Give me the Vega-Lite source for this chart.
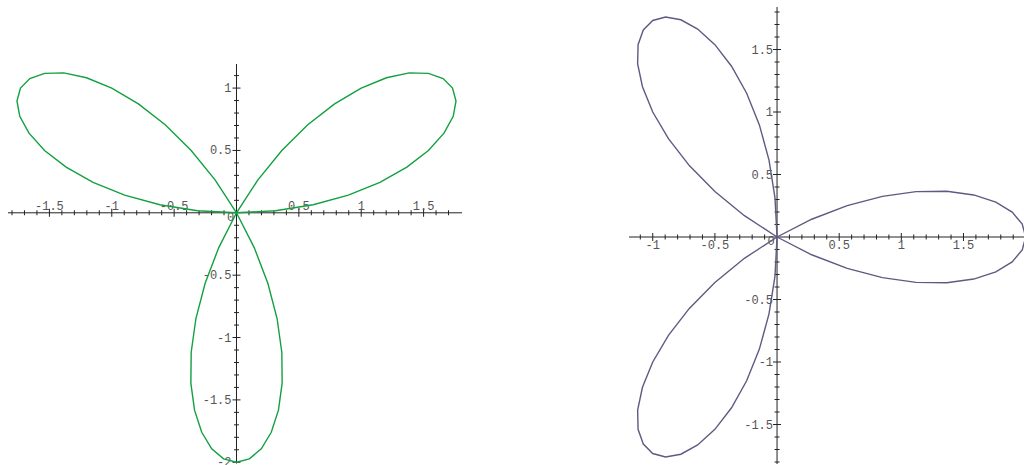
{
  "$schema": "https://vega.github.io/schema/vega-lite/v6.json",
  "padding": {"left": 7, "top": 6, "right": 0, "bottom": 0},
  "spacing": 167,
  "bounds": "flush",
  "background": "white",
  "config": {
    "view": {"stroke": null},
    "text": {"font": "Liberation Mono", "fontSize": 12, "color": "#555555"}
  },
  "datasets": {
    "roseL": [
      {"i":0,"x":0,"y":0},{"i":1,"x":0.31243,"y":0.01638},{"i":2,"x":0.61464,"y":0.0646},{"i":3,"x":0.8968,"y":0.14204},{"i":4,"x":1.14988,"y":0.24441},{"i":5,"x":1.36603,"y":0.36603},{"i":6,"x":1.53884,"y":0.5},{"i":7,"x":1.66365,"y":0.63862},{"i":8,"x":1.73767,"y":0.77367},{"i":9,"x":1.76008,"y":0.8968},{"i":10,"x":1.73205,"y":1},{"i":11,"x":1.65669,"y":1.07587},{"i":12,"x":1.53884,"y":1.11804},{"i":13,"x":1.38489,"y":1.12146},{"i":14,"x":1.20243,"y":1.08268},{"i":15,"x":1,"y":1},{"i":16,"x":0.78661,"y":0.87361},{"i":17,"x":0.57141,"y":0.70564},{"i":18,"x":0.36327,"y":0.5},{"i":19,"x":0.1704,"y":0.26239},{"i":20,"x":0,"y":0},
      {"i":21,"x":-0.14203,"y":-0.27876},{"i":22,"x":-0.25138,"y":-0.5646},{"i":23,"x":-0.32539,"y":-0.84767},{"i":24,"x":-0.36327,"y":-1.11804},{"i":25,"x":-0.36603,"y":-1.36603},{"i":26,"x":-0.3364,"y":-1.58268},{"i":27,"x":-0.27876,"y":-1.76007},{"i":28,"x":-0.19883,"y":-1.89169},{"i":29,"x":-0.10339,"y":-1.97267},{"i":30,"x":0,"y":-2},{"i":31,"x":0.10339,"y":-1.97267},{"i":32,"x":0.19883,"y":-1.89169},{"i":33,"x":0.27876,"y":-1.76007},{"i":34,"x":0.3364,"y":-1.58268},{"i":35,"x":0.36603,"y":-1.36603},{"i":36,"x":0.36327,"y":-1.11804},{"i":37,"x":0.32539,"y":-0.84767},{"i":38,"x":0.25138,"y":-0.5646},{"i":39,"x":0.14203,"y":-0.27876},{"i":40,"x":0,"y":0},
      {"i":41,"x":-0.1704,"y":0.26239},{"i":42,"x":-0.36327,"y":0.5},{"i":43,"x":-0.57141,"y":0.70564},{"i":44,"x":-0.78661,"y":0.87361},{"i":45,"x":-1,"y":1},{"i":46,"x":-1.20243,"y":1.08268},{"i":47,"x":-1.38489,"y":1.12146},{"i":48,"x":-1.53884,"y":1.11804},{"i":49,"x":-1.65669,"y":1.07587},{"i":50,"x":-1.73205,"y":1},{"i":51,"x":-1.76008,"y":0.8968},{"i":52,"x":-1.73767,"y":0.77367},{"i":53,"x":-1.66365,"y":0.63862},{"i":54,"x":-1.53884,"y":0.5},{"i":55,"x":-1.36603,"y":0.36603},{"i":56,"x":-1.14988,"y":0.24441},{"i":57,"x":-0.8968,"y":0.14204},{"i":58,"x":-0.61464,"y":0.0646},{"i":59,"x":-0.31243,"y":0.01638},{"i":60,"x":0,"y":0}
    ],
    "roseR": [
      {"i":0,"x":0,"y":0},{"i":1,"x":0.27876,"y":-0.14203},{"i":2,"x":0.5646,"y":-0.25138},{"i":3,"x":0.84767,"y":-0.32539},{"i":4,"x":1.11804,"y":-0.36327},{"i":5,"x":1.36603,"y":-0.36603},{"i":6,"x":1.58268,"y":-0.3364},{"i":7,"x":1.76007,"y":-0.27876},{"i":8,"x":1.89169,"y":-0.19883},{"i":9,"x":1.97267,"y":-0.10339},{"i":10,"x":2,"y":0},{"i":11,"x":1.97267,"y":0.10339},{"i":12,"x":1.89169,"y":0.19883},{"i":13,"x":1.76007,"y":0.27876},{"i":14,"x":1.58268,"y":0.3364},{"i":15,"x":1.36603,"y":0.36603},{"i":16,"x":1.11804,"y":0.36327},{"i":17,"x":0.84767,"y":0.32539},{"i":18,"x":0.5646,"y":0.25138},{"i":19,"x":0.27876,"y":0.14203},{"i":20,"x":0,"y":0},
      {"i":21,"x":-0.26239,"y":-0.1704},{"i":22,"x":-0.5,"y":-0.36327},{"i":23,"x":-0.70564,"y":-0.57141},{"i":24,"x":-0.87361,"y":-0.78661},{"i":25,"x":-1,"y":-1},{"i":26,"x":-1.08268,"y":-1.20243},{"i":27,"x":-1.12146,"y":-1.38489},{"i":28,"x":-1.11804,"y":-1.53884},{"i":29,"x":-1.07587,"y":-1.65669},{"i":30,"x":-1,"y":-1.73205},{"i":31,"x":-0.8968,"y":-1.76008},{"i":32,"x":-0.77367,"y":-1.73767},{"i":33,"x":-0.63862,"y":-1.66365},{"i":34,"x":-0.5,"y":-1.53884},{"i":35,"x":-0.36603,"y":-1.36603},{"i":36,"x":-0.24441,"y":-1.14988},{"i":37,"x":-0.14204,"y":-0.8968},{"i":38,"x":-0.0646,"y":-0.61464},{"i":39,"x":-0.01638,"y":-0.31243},{"i":40,"x":0,"y":0},
      {"i":41,"x":-0.01638,"y":0.31243},{"i":42,"x":-0.0646,"y":0.61464},{"i":43,"x":-0.14204,"y":0.8968},{"i":44,"x":-0.24441,"y":1.14988},{"i":45,"x":-0.36603,"y":1.36603},{"i":46,"x":-0.5,"y":1.53884},{"i":47,"x":-0.63862,"y":1.66365},{"i":48,"x":-0.77367,"y":1.73767},{"i":49,"x":-0.8968,"y":1.76008},{"i":50,"x":-1,"y":1.73205},{"i":51,"x":-1.07587,"y":1.65669},{"i":52,"x":-1.11804,"y":1.53884},{"i":53,"x":-1.12146,"y":1.38489},{"i":54,"x":-1.08268,"y":1.20243},{"i":55,"x":-1,"y":1},{"i":56,"x":-0.87361,"y":0.78661},{"i":57,"x":-0.70564,"y":0.57141},{"i":58,"x":-0.5,"y":0.36327},{"i":59,"x":-0.26239,"y":0.1704},{"i":60,"x":0,"y":0}
    ],
    "axesL": [{"x":-1.832,"y":0,"x2":1.808,"y2":0},{"x":0,"y":-2.01,"x2":0,"y2":1.193}],
    "axesR": [{"x":-1.191,"y":0,"x2":1.995,"y2":0},{"x":0,"y":-1.816,"x2":0,"y2":1.84}],
    "xticksL": [
      {"x":-1.8,"y":0,"k":"minor"},{"x":-1.7,"y":0,"k":"minor"},{"x":-1.6,"y":0,"k":"minor"},{"x":-1.5,"y":0,"k":"major"},{"x":-1.4,"y":0,"k":"minor"},{"x":-1.3,"y":0,"k":"minor"},{"x":-1.2,"y":0,"k":"minor"},{"x":-1.1,"y":0,"k":"minor"},{"x":-1,"y":0,"k":"major"},{"x":-0.9,"y":0,"k":"minor"},{"x":-0.8,"y":0,"k":"minor"},{"x":-0.7,"y":0,"k":"minor"},{"x":-0.6,"y":0,"k":"minor"},{"x":-0.5,"y":0,"k":"major"},{"x":-0.4,"y":0,"k":"minor"},{"x":-0.3,"y":0,"k":"minor"},{"x":-0.2,"y":0,"k":"minor"},{"x":-0.1,"y":0,"k":"minor"},
      {"x":0.1,"y":0,"k":"minor"},{"x":0.2,"y":0,"k":"minor"},{"x":0.3,"y":0,"k":"minor"},{"x":0.4,"y":0,"k":"minor"},{"x":0.5,"y":0,"k":"major"},{"x":0.6,"y":0,"k":"minor"},{"x":0.7,"y":0,"k":"minor"},{"x":0.8,"y":0,"k":"minor"},{"x":0.9,"y":0,"k":"minor"},{"x":1,"y":0,"k":"major"},{"x":1.1,"y":0,"k":"minor"},{"x":1.2,"y":0,"k":"minor"},{"x":1.3,"y":0,"k":"minor"},{"x":1.4,"y":0,"k":"minor"},{"x":1.5,"y":0,"k":"major"},{"x":1.6,"y":0,"k":"minor"},{"x":1.7,"y":0,"k":"minor"}
    ],
    "yticksL": [
      {"x":0,"y":-2,"k":"major"},{"x":0,"y":-1.9,"k":"minor"},{"x":0,"y":-1.8,"k":"minor"},{"x":0,"y":-1.7,"k":"minor"},{"x":0,"y":-1.6,"k":"minor"},{"x":0,"y":-1.5,"k":"major"},{"x":0,"y":-1.4,"k":"minor"},{"x":0,"y":-1.3,"k":"minor"},{"x":0,"y":-1.2,"k":"minor"},{"x":0,"y":-1.1,"k":"minor"},{"x":0,"y":-1,"k":"major"},{"x":0,"y":-0.9,"k":"minor"},{"x":0,"y":-0.8,"k":"minor"},{"x":0,"y":-0.7,"k":"minor"},{"x":0,"y":-0.6,"k":"minor"},{"x":0,"y":-0.5,"k":"major"},{"x":0,"y":-0.4,"k":"minor"},{"x":0,"y":-0.3,"k":"minor"},{"x":0,"y":-0.2,"k":"minor"},{"x":0,"y":-0.1,"k":"minor"},
      {"x":0,"y":0.1,"k":"minor"},{"x":0,"y":0.2,"k":"minor"},{"x":0,"y":0.3,"k":"minor"},{"x":0,"y":0.4,"k":"minor"},{"x":0,"y":0.5,"k":"major"},{"x":0,"y":0.6,"k":"minor"},{"x":0,"y":0.7,"k":"minor"},{"x":0,"y":0.8,"k":"minor"},{"x":0,"y":0.9,"k":"minor"},{"x":0,"y":1,"k":"major"},{"x":0,"y":1.1,"k":"minor"}
    ],
    "xticksR": [
      {"x":-1.1,"y":0,"k":"minor"},{"x":-1,"y":0,"k":"major"},{"x":-0.9,"y":0,"k":"minor"},{"x":-0.8,"y":0,"k":"minor"},{"x":-0.7,"y":0,"k":"minor"},{"x":-0.6,"y":0,"k":"minor"},{"x":-0.5,"y":0,"k":"major"},{"x":-0.4,"y":0,"k":"minor"},{"x":-0.3,"y":0,"k":"minor"},{"x":-0.2,"y":0,"k":"minor"},{"x":-0.1,"y":0,"k":"minor"},
      {"x":0.1,"y":0,"k":"minor"},{"x":0.2,"y":0,"k":"minor"},{"x":0.3,"y":0,"k":"minor"},{"x":0.4,"y":0,"k":"minor"},{"x":0.5,"y":0,"k":"major"},{"x":0.6,"y":0,"k":"minor"},{"x":0.7,"y":0,"k":"minor"},{"x":0.8,"y":0,"k":"minor"},{"x":0.9,"y":0,"k":"minor"},{"x":1,"y":0,"k":"major"},{"x":1.1,"y":0,"k":"minor"},{"x":1.2,"y":0,"k":"minor"},{"x":1.3,"y":0,"k":"minor"},{"x":1.4,"y":0,"k":"minor"},{"x":1.5,"y":0,"k":"major"},{"x":1.6,"y":0,"k":"minor"},{"x":1.7,"y":0,"k":"minor"},{"x":1.8,"y":0,"k":"minor"},{"x":1.9,"y":0,"k":"minor"}
    ],
    "yticksR": [
      {"x":0,"y":-1.8,"k":"minor"},{"x":0,"y":-1.7,"k":"minor"},{"x":0,"y":-1.6,"k":"minor"},{"x":0,"y":-1.5,"k":"major"},{"x":0,"y":-1.4,"k":"minor"},{"x":0,"y":-1.3,"k":"minor"},{"x":0,"y":-1.2,"k":"minor"},{"x":0,"y":-1.1,"k":"minor"},{"x":0,"y":-1,"k":"major"},{"x":0,"y":-0.9,"k":"minor"},{"x":0,"y":-0.8,"k":"minor"},{"x":0,"y":-0.7,"k":"minor"},{"x":0,"y":-0.6,"k":"minor"},{"x":0,"y":-0.5,"k":"major"},{"x":0,"y":-0.4,"k":"minor"},{"x":0,"y":-0.3,"k":"minor"},{"x":0,"y":-0.2,"k":"minor"},{"x":0,"y":-0.1,"k":"minor"},
      {"x":0,"y":0.1,"k":"minor"},{"x":0,"y":0.2,"k":"minor"},{"x":0,"y":0.3,"k":"minor"},{"x":0,"y":0.4,"k":"minor"},{"x":0,"y":0.5,"k":"major"},{"x":0,"y":0.6,"k":"minor"},{"x":0,"y":0.7,"k":"minor"},{"x":0,"y":0.8,"k":"minor"},{"x":0,"y":0.9,"k":"minor"},{"x":0,"y":1,"k":"major"},{"x":0,"y":1.1,"k":"minor"},{"x":0,"y":1.2,"k":"minor"},{"x":0,"y":1.3,"k":"minor"},{"x":0,"y":1.4,"k":"minor"},{"x":0,"y":1.5,"k":"major"},{"x":0,"y":1.6,"k":"minor"},{"x":0,"y":1.7,"k":"minor"},{"x":0,"y":1.8,"k":"minor"}
    ],
    "xlabL": [{"x":-1.5,"y":0,"label":"-1.5"},{"x":-1,"y":0,"label":"-1"},{"x":-0.5,"y":0,"label":"-0.5"},{"x":0.5,"y":0,"label":"0.5"},{"x":1,"y":0,"label":"1"},{"x":1.5,"y":0,"label":"1.5"}],
    "ylabL": [{"x":0,"y":-2,"label":"-2"},{"x":0,"y":-1.5,"label":"-1.5"},{"x":0,"y":-1,"label":"-1"},{"x":0,"y":-0.5,"label":"-0.5"},{"x":0,"y":0.5,"label":"0.5"},{"x":0,"y":1,"label":"1"}],
    "xlabR": [{"x":-1,"y":0,"label":"-1"},{"x":-0.5,"y":0,"label":"-0.5"},{"x":0.5,"y":0,"label":"0.5"},{"x":1,"y":0,"label":"1"},{"x":1.5,"y":0,"label":"1.5"}],
    "ylabR": [{"x":0,"y":-1.5,"label":"-1.5"},{"x":0,"y":-1,"label":"-1"},{"x":0,"y":-0.5,"label":"-0.5"},{"x":0,"y":0.5,"label":"0.5"},{"x":0,"y":1,"label":"1"},{"x":0,"y":1.5,"label":"1.5"}],
    "zero": [{"x":0,"y":0,"label":"0"}]
  },
  "resolve": {"scale": {"x": "independent", "y": "independent"}},
  "hconcat": [
    {
      "width": 454,
      "height": 457,
      "encoding": {
        "x": {"field": "x", "type": "quantitative", "scale": {"domain": [-1.832, 1.808], "nice": false, "zero": false}, "axis": null},
        "y": {"field": "y", "type": "quantitative", "scale": {"domain": [-2.014, 1.65], "nice": false, "zero": false}, "axis": null}
      },
      "layer": [
        {"data": {"name": "axesL"}, "mark": {"type": "rule", "color": "#222222", "strokeWidth": 1}, "encoding": {"x2": {"field": "x2"}, "y2": {"field": "y2"}}},
        {"data": {"name": "xticksL"}, "mark": {"type": "tick", "orient": "vertical", "color": "#222222", "thickness": 1, "opacity": 1}, "encoding": {"size": {"field": "k", "type": "nominal", "scale": {"domain": ["major", "minor"], "range": [8, 5]}, "legend": null}}},
        {"data": {"name": "yticksL"}, "mark": {"type": "tick", "orient": "horizontal", "color": "#222222", "thickness": 1, "opacity": 1}, "encoding": {"size": {"field": "k", "type": "nominal", "scale": {"domain": ["major", "minor"], "range": [8, 5]}, "legend": null}}},
        {"data": {"name": "xlabL"}, "mark": {"type": "text", "align": "center", "baseline": "middle", "dy": -7}, "encoding": {"text": {"field": "label"}}},
        {"data": {"name": "ylabL"}, "mark": {"type": "text", "align": "right", "baseline": "middle", "dx": -5}, "encoding": {"text": {"field": "label"}}},
        {"data": {"name": "zero"}, "mark": {"type": "text", "align": "center", "baseline": "middle", "dx": -6, "dy": 4}, "encoding": {"text": {"field": "label"}}},
        {"data": {"name": "roseL"}, "mark": {"type": "line", "color": "#12a040", "strokeWidth": 1.4}, "encoding": {"order": {"field": "i", "type": "quantitative"}}}
      ]
    },
    {
      "width": 396,
      "height": 457,
      "encoding": {
        "x": {"field": "x", "type": "quantitative", "scale": {"domain": [-1.191, 1.995], "nice": false, "zero": false}, "axis": null},
        "y": {"field": "y", "type": "quantitative", "scale": {"domain": [-1.816, 1.84], "nice": false, "zero": false}, "axis": null}
      },
      "layer": [
        {"data": {"name": "axesR"}, "mark": {"type": "rule", "color": "#222222", "strokeWidth": 1}, "encoding": {"x2": {"field": "x2"}, "y2": {"field": "y2"}}},
        {"data": {"name": "xticksR"}, "mark": {"type": "tick", "orient": "vertical", "color": "#222222", "thickness": 1, "opacity": 1}, "encoding": {"size": {"field": "k", "type": "nominal", "scale": {"domain": ["major", "minor"], "range": [8, 5]}, "legend": null}}},
        {"data": {"name": "yticksR"}, "mark": {"type": "tick", "orient": "horizontal", "color": "#222222", "thickness": 1, "opacity": 1}, "encoding": {"size": {"field": "k", "type": "nominal", "scale": {"domain": ["major", "minor"], "range": [8, 5]}, "legend": null}}},
        {"data": {"name": "xlabR"}, "mark": {"type": "text", "align": "center", "baseline": "middle", "dy": 8}, "encoding": {"text": {"field": "label"}}},
        {"data": {"name": "ylabR"}, "mark": {"type": "text", "align": "right", "baseline": "middle", "dx": -4}, "encoding": {"text": {"field": "label"}}},
        {"data": {"name": "zero"}, "mark": {"type": "text", "align": "center", "baseline": "middle", "dx": -6, "dy": 4}, "encoding": {"text": {"field": "label"}}},
        {"data": {"name": "roseR"}, "mark": {"type": "line", "color": "#5f5a82", "strokeWidth": 1.4}, "encoding": {"order": {"field": "i", "type": "quantitative"}}}
      ]
    }
  ]
}
